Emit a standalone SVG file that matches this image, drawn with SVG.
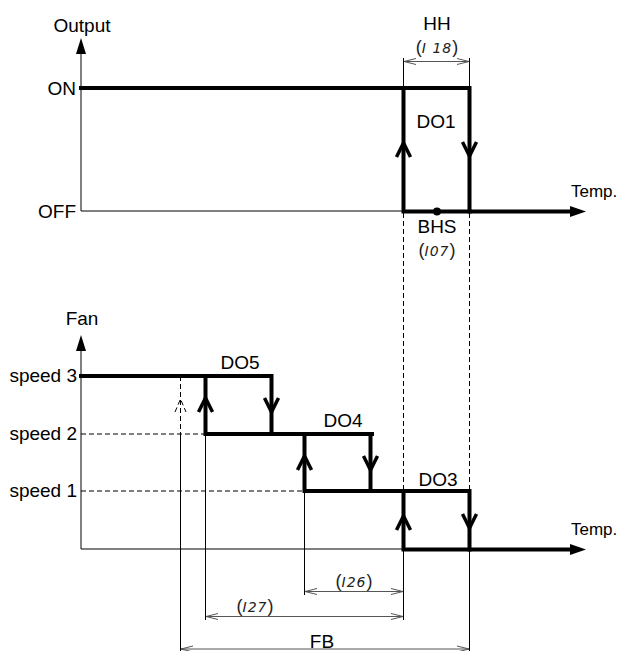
<svg xmlns="http://www.w3.org/2000/svg" width="622" height="651" viewBox="0 0 622 651">
<defs>
<style>
text{font-family:"Liberation Sans",Arial,sans-serif;font-size:19px;fill:#000}
.c{text-anchor:middle}
.r{text-anchor:end}
.t{font-size:17px}
.p{font-size:18px;fill:#222}
.pi{font-family:"DejaVu Sans","Liberation Sans",sans-serif;font-style:italic;font-size:14px;letter-spacing:1px}
.thick{stroke:#000;stroke-width:4;fill:none;stroke-linecap:square;stroke-linejoin:miter}
.thin{stroke:#000;stroke-width:1;fill:none}
.dash{stroke:#000;stroke-width:1;fill:none;stroke-dasharray:5,3}
.dim{stroke:#555;stroke-width:1;fill:none}
.chev{stroke:#000;stroke-width:3.5;fill:none;stroke-linejoin:miter}
</style>
<marker id="da" viewBox="0 0 12 8" refX="12" refY="4" markerWidth="12" markerHeight="8" markerUnits="userSpaceOnUse" orient="auto-start-reverse">
<path d="M0,1 L12,4 L0,7" fill="none" stroke="#555" stroke-width="1"/>
</marker>
</defs>
<rect width="622" height="651" fill="#fff"/>

<g id="axes">
<line class="thin" x1="81" y1="50" x2="81" y2="211"/>
<polygon points="81,38 76,54 86,54" fill="#000"/>
<line class="thin" x1="81" y1="211" x2="403" y2="211"/>
<polygon points="586,211.5 570,206 570,217" fill="#000"/>
<line class="thin" x1="81" y1="347" x2="81" y2="549"/>
<polygon points="81,335 76,351 86,351" fill="#000"/>
<line class="thin" x1="81" y1="549" x2="403" y2="549"/>
<polygon points="586,549.5 570,544 570,555" fill="#000"/>
</g>

<g id="labels">
<text class="c" x="82" y="32">Output</text>
<text class="r" x="76" y="95">ON</text>
<text class="r" x="76" y="218">OFF</text>
<text class="t" x="571" y="197">Temp.</text>
<text class="c" x="82" y="325">Fan</text>
<text class="r" x="77" y="382">speed 3</text>
<text class="r" x="77" y="440">speed 2</text>
<text class="r" x="77" y="497">speed 1</text>
<text class="t" x="571" y="535">Temp.</text>
</g>

<g id="connectors">
<line class="dash" x1="403.5" y1="213" x2="403.5" y2="491"/>
<line class="dash" x1="469.5" y1="213" x2="469.5" y2="491"/>
<line class="dash" x1="81" y1="434" x2="205" y2="434"/>
<line class="dash" x1="81" y1="491" x2="304" y2="491"/>
<line class="dash" x1="180.5" y1="376" x2="180.5" y2="434"/>
<path class="dash" d="M175,412 L180.5,399 L186,412" stroke-dasharray="3,2"/>
<line class="thin" x1="403.5" y1="58" x2="403.5" y2="88"/>
<line class="thin" x1="469.5" y1="58" x2="469.5" y2="88"/>
<line class="thin" x1="180.5" y1="434" x2="180.5" y2="651"/>
<line class="thin" x1="205.5" y1="434" x2="205.5" y2="620"/>
<line class="thin" x1="304.5" y1="491" x2="304.5" y2="595"/>
<line class="thin" x1="403.5" y1="549" x2="403.5" y2="620"/>
<line class="thin" x1="469.5" y1="549" x2="469.5" y2="651"/>
<line class="dim" x1="404" y1="61.5" x2="469" y2="61.5" marker-start="url(#da)" marker-end="url(#da)"/>
<line class="dim" x1="305" y1="591.5" x2="403" y2="591.5" marker-start="url(#da)" marker-end="url(#da)"/>
<line class="dim" x1="206" y1="616.5" x2="403" y2="616.5" marker-start="url(#da)" marker-end="url(#da)"/>
<line class="dim" x1="181" y1="649" x2="469" y2="649" marker-start="url(#da)" marker-end="url(#da)"/>
</g>

<g id="do1">
<path class="thick" d="M81,88 L469.5,88 L469.5,211.5 L570,211.5"/>
<path class="thick" d="M403.5,88 L403.5,211.5 L469.5,211.5"/>
<path class="chev" d="M396.5,157 L403.5,143 L410.5,157"/>
<path class="chev" d="M462.5,142 L469.5,156 L476.5,142"/>
<circle cx="437" cy="211.5" r="4" fill="#000"/>
<text class="c" x="436" y="128">DO1</text>
<text class="c" x="437" y="30">HH</text>
<text class="c p" x="437" y="53">(<tspan class="pi">I 18</tspan>)</text>
<text class="c" x="437" y="233">BHS</text>
<text class="c p" x="437" y="256">(<tspan class="pi">I07</tspan>)</text>
</g>

<g id="do5">
<path class="thick" d="M81,376 L271.5,376 L271.5,434"/>
<path class="thick" d="M205.5,376 L205.5,434 L372,434"/>
<path class="chev" d="M198.5,412 L205.5,398 L212.5,412"/>
<path class="chev" d="M264.5,398 L271.5,412 L278.5,398"/>
<text class="c" x="240" y="369">DO5</text>
</g>

<g id="do4">
<path class="thick" d="M370.5,434 L370.5,491"/>
<path class="thick" d="M304.5,434 L304.5,491 L469.5,491 L469.5,549.5"/>
<path class="chev" d="M297.5,470 L304.5,456 L311.5,470"/>
<path class="chev" d="M363.5,456 L370.5,470 L377.5,456"/>
<text class="c" x="343" y="427">DO4</text>
</g>

<g id="do3">
<path class="thick" d="M403.5,491 L403.5,549.5 L570,549.5"/>
<path class="chev" d="M396.5,530 L403.5,516 L410.5,530"/>
<path class="chev" d="M462.5,514 L469.5,528 L476.5,514"/>
<text class="c" x="438" y="486">DO3</text>
</g>

<g id="dimlabels">
<text class="c p" x="354" y="587">(<tspan class="pi">I26</tspan>)</text>
<text class="c p" x="255" y="612">(<tspan class="pi">I27</tspan>)</text>
<text class="c" x="322" y="648">FB</text>
</g>
</svg>
